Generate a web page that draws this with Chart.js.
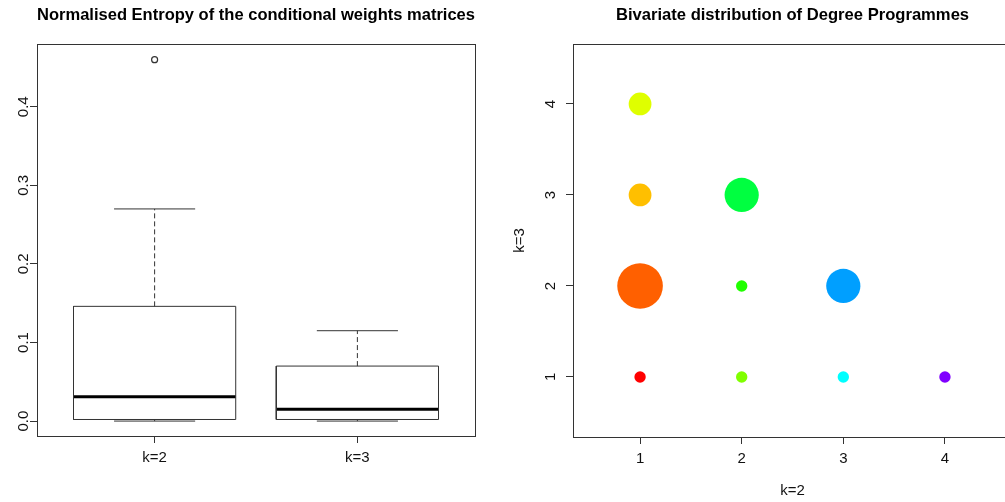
<!DOCTYPE html>
<html>
<head>
<meta charset="utf-8">
<script src="https://cdn.jsdelivr.net/npm/chart.js@4"></script>
<style>
  html, body { margin: 0; padding: 0; background: #fff; overflow: hidden; width: 1005px; height: 502px; }
  #Left_Wrap { position: absolute; left: 0; top: 0; width: 502px; height: 502px; }
  #Right_Wrap { position: absolute; left: 500px; top: 0; width: 520px; height: 502px; }
</style>
</head>
<body>
<div id="Left_Wrap"><canvas id="Box_Chart" width="502" height="502"></canvas></div>
<div id="Right_Wrap"><canvas id="Bubble_Chart" width="520" height="502"></canvas></div>
<script>
// boxplot stats
const Box_Groups = ["k=2", "k=3"];
const Box_Lower = [0.000, 0.000];
const Box_Q1 = [0.002, 0.002];
const Box_Median = [0.031, 0.015];
const Box_Q3 = [0.146, 0.070];
const Box_Upper = [0.270, 0.115];
const Box_Outliers = [[0.460], []];
const Box_Y_Ticks = [0, 0.1, 0.2, 0.3, 0.4];

// bubble chart: counts per (k=2, k=3) pair
const Prog_K2 = [1, 1, 1, 1, 2, 2, 2, 3, 3, 4];
const Prog_K3 = [1, 2, 3, 4, 1, 2, 3, 1, 2, 1];
const Prog_Count = [1, 4, 2, 2, 1, 1, 3, 1, 3, 1];
const Prog_Ticks = [1, 2, 3, 4];

const Prog_Colors = ["#FF0000", "#FF6000", "#FFBF00", "#DFFF00", "#80FF00",
                     "#20FF00", "#00FF40", "#00FFFF", "#009FFF", "#8000FF"];

const Line_Color = "#333";
const Text_Color = "#111";
const Font_Family = "'Liberation Sans', Arial, sans-serif";

Chart.defaults.font.family = Font_Family;
Chart.defaults.color = Text_Color;

const Frame_Plugin = {
    id: "frame",
    afterDatasetsDraw(chart) {
        const A = chart.chartArea;
        const ctx = chart.ctx;
        ctx.save();
        ctx.strokeStyle = Line_Color;
        ctx.lineWidth = 1;
        ctx.strokeRect(Math.round(A.left) + 0.5, Math.round(A.top) + 0.5,
                       Math.round(A.right - A.left), Math.round(A.bottom - A.top));
        ctx.restore();
    }
};

function Seg(Points, Extra) {
    return Object.assign({
        data: Points,
        showLine: true,
        pointRadius: 0,
        borderColor: Line_Color,
        borderWidth: 1,
        fill: false
    }, Extra || {});
}

function Build_Box_Datasets() {
    const Sets = [];
    const Half = 0.4, Cap = 0.2;
    Box_Groups.forEach(function (G, i) {
        const X = i + 1;
        Sets.push(Seg([
            { x: X - Half, y: Box_Q1[i] }, { x: X + Half, y: Box_Q1[i] },
            { x: X + Half, y: Box_Q3[i] }, { x: X - Half, y: Box_Q3[i] },
            { x: X - Half, y: Box_Q1[i] }
        ]));
        Sets.push(Seg([{ x: X - Half, y: Box_Median[i] }, { x: X + Half, y: Box_Median[i] }],
            { borderColor: "#000", borderWidth: 3 }));
        Sets.push(Seg([{ x: X, y: Box_Q3[i] }, { x: X, y: Box_Upper[i] }], { borderDash: [5, 3] }));
        Sets.push(Seg([{ x: X, y: Box_Lower[i] }, { x: X, y: Box_Q1[i] }], { borderDash: [5, 3] }));
        Sets.push(Seg([{ x: X - Cap, y: Box_Upper[i] }, { x: X + Cap, y: Box_Upper[i] }]));
        Sets.push(Seg([{ x: X - Cap, y: Box_Lower[i] }, { x: X + Cap, y: Box_Lower[i] }]));
        Sets.push({
            data: Box_Outliers[i].map(function (V) { return { x: X, y: V }; }),
            showLine: false,
            pointRadius: 3,
            pointBorderWidth: 1.2,
            pointBorderColor: Line_Color,
            pointBackgroundColor: "#fff"
        });
    });
    return Sets;
}

function Fixed_Ticks(Values) {
    return function (Scale) { Scale.ticks = Values.map(function (V) { return { value: V }; }); };
}

function Axis_Grid() {
    return { drawOnChartArea: false, drawTicks: true, tickLength: 7, color: Line_Color, lineWidth: 1 };
}

const Title_Font = { size: 16.6, weight: "bold" };
const Title_Pad = { top: 5, bottom: 19 };

new Chart(document.getElementById("Box_Chart"), {
    type: "scatter",
    data: { datasets: Build_Box_Datasets() },
    options: {
        responsive: false,
        animation: false,
        events: [],
        layout: { autoPadding: false, padding: { left: 0, right: 27, top: 0, bottom: 0 } },
        plugins: {
            legend: { display: false },
            tooltip: { enabled: false },
            title: {
                display: true,
                fullSize: false,
                text: "Normalised Entropy of the conditional weights matrices",
                color: "#000",
                font: Title_Font,
                padding: Title_Pad
            }
        },
        scales: {
            x: {
                type: "linear",
                min: 0.42, max: 2.58,
                afterBuildTicks: Fixed_Ticks([1, 2]),
                afterFit: function (S) { S.height = 66; },
                grid: Axis_Grid(),
                border: { display: false },
                ticks: {
                    font: { size: 15 }, padding: 6, maxRotation: 0,
                    callback: function (V) { return Box_Groups[V - 1]; }
                }
            },
            y: {
                type: "linear",
                min: -0.019, max: 0.48,
                afterBuildTicks: Fixed_Ticks(Box_Y_Ticks),
                afterFit: function (S) { S.width = 37; },
                grid: Axis_Grid(),
                border: { display: false },
                ticks: {
                    font: { size: 15 }, padding: -4.5, minRotation: 90, maxRotation: 90,
                    crossAlign: "center",
                    callback: function (V) { return V.toFixed(1); }
                }
            }
        }
    },
    plugins: [Frame_Plugin]
});

new Chart(document.getElementById("Bubble_Chart"), {
    type: "bubble",
    data: {
        datasets: [{
            data: Prog_K2.map(function (X, i) { return { x: X, y: Prog_K3[i], r: Prog_Count[i] * 5.7 }; }),
            backgroundColor: Prog_Colors,
            borderWidth: 0
        }]
    },
    options: {
        responsive: false,
        animation: false,
        events: [],
        layout: { autoPadding: false, padding: { left: 0, right: 8, top: 0, bottom: 0 } },
        plugins: {
            legend: { display: false },
            tooltip: { enabled: false },
            title: {
                display: true,
                fullSize: false,
                text: "Bivariate distribution of Degree Programmes",
                color: "#000",
                font: Title_Font,
                padding: Title_Pad
            }
        },
        scales: {
            x: {
                type: "linear",
                min: 0.34, max: 4.66,
                afterBuildTicks: Fixed_Ticks(Prog_Ticks),
                afterFit: function (S) { S.height = 65; },
                grid: Axis_Grid(),
                border: { display: false },
                title: { display: true, text: "k=2", font: { size: 15 }, padding: { top: 0, bottom: 2 } },
                ticks: { font: { size: 15 }, padding: 6, maxRotation: 0 }
            },
            y: {
                type: "linear",
                min: 0.34, max: 4.66,
                afterBuildTicks: Fixed_Ticks(Prog_Ticks),
                afterFit: function (S) { S.width = 73; },
                grid: Axis_Grid(),
                border: { display: false },
                title: { display: true, text: "k=3", font: { size: 15 }, padding: { top: 11, bottom: 0 } },
                ticks: {
                    font: { size: 15 }, padding: 11, minRotation: 90, maxRotation: 90,
                    crossAlign: "center"
                }
            }
        }
    },
    plugins: [Frame_Plugin]
});
</script>
</body>
</html>
